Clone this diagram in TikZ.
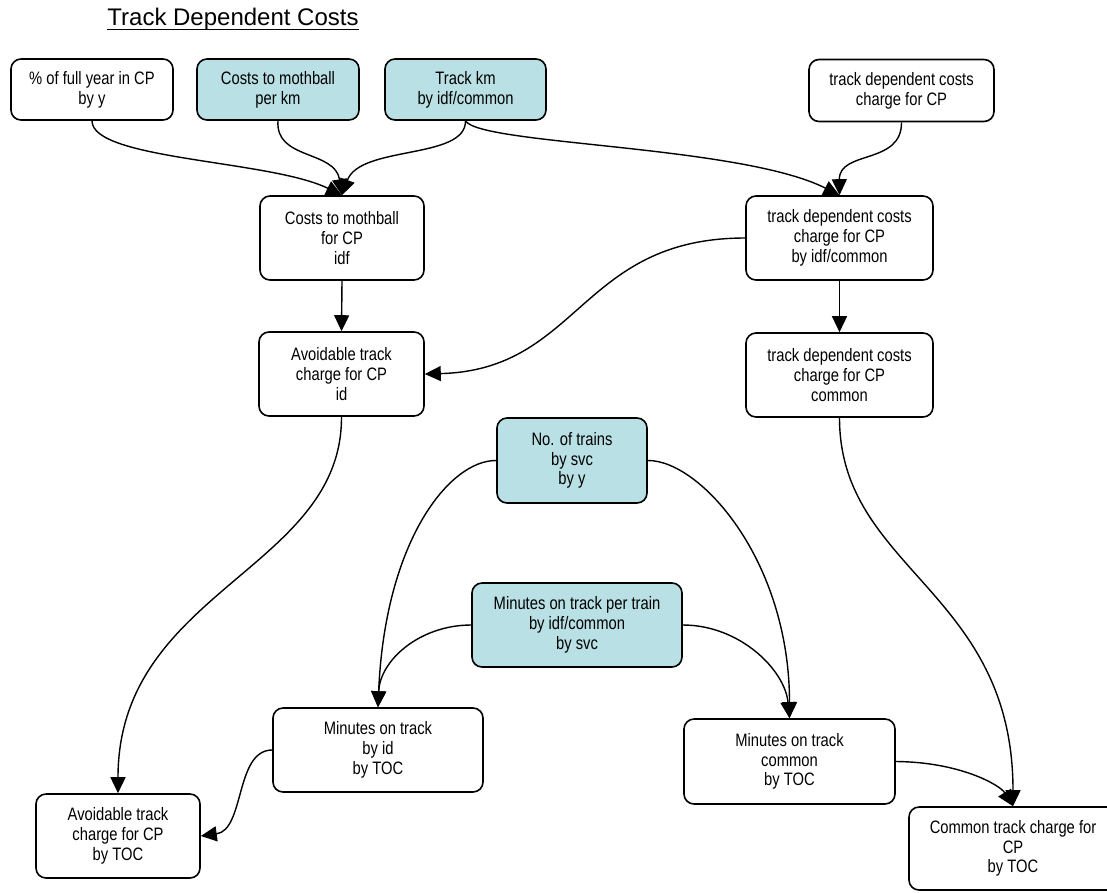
\documentclass[tikz,border=0pt]{standalone}
\usepackage{fontspec}
\setmainfont{Liberation Sans}
\newfontfamily\bodyfont[FakeStretch=0.82]{Liberation Sans}
\usetikzlibrary{arrows.meta}
\definecolor{tealfill}{RGB}{185,224,228}
\tikzset{
  box/.style={draw, rounded corners=10pt, line width=1.6pt, align=center, inner sep=2pt,
    font=\bodyfont\fontsize{18}{19.8}\selectfont, fill=white},
  inbox/.style={box, fill=tealfill},
  conn/.style={line width=1.4pt, -{Triangle[length=16pt,width=15pt]}}
}
\begin{document}
\begin{tikzpicture}[x=1pt,y=-1pt]
\useasboundingbox (0,0) rectangle (1107,892);
% title
\node[anchor=base, inner sep=0pt, font=\fontsize{24}{28}\selectfont] (title) at (233,25) {Track Dependent Costs};
\draw[line width=1.4pt] ([yshift=-4.5pt]title.base west) -- ([yshift=-4.5pt]title.base east);
% top row
\node[box, minimum width=162pt, minimum height=61pt] (b1) at (92,89.5) {\% of full year in CP\\by y};
\node[inbox, minimum width=162pt, minimum height=61pt] (b2) at (278,89.5) {Costs to mothball\\per km};
\node[inbox, minimum width=161pt, minimum height=61pt] (b3) at (465.5,89.5) {Track km\\by idf/common};
\node[box, minimum width=185pt, minimum height=62pt] (b4) at (901.5,90.5) {track dependent costs\\charge for CP};
% second row
\node[box, minimum width=164pt, minimum height=84pt] (b5) at (342,238) {Costs to mothball\\for CP\\idf};
\node[box, minimum width=187pt, minimum height=84pt] (b7) at (839.5,238) {track dependent costs\\charge for CP\\by idf/common};
% third row
\node[box, minimum width=165pt, minimum height=84pt] (b6) at (341.5,374) {Avoidable track\\charge for CP\\id};
\node[box, minimum width=187pt, minimum height=84pt] (b8) at (839.5,375) {track dependent costs\\charge for CP\\common};
% middle inputs
\node[inbox, minimum width=150pt, minimum height=85pt] (b9) at (572,460.5) {No. of trains\\by svc\\by y};
\node[inbox, minimum width=210pt, minimum height=84pt] (b10) at (577,625) {Minutes on track per train\\by idf/common\\by svc};
% lower
\node[box, minimum width=210pt, minimum height=84pt] (b11) at (378,750) {Minutes on track\\by id\\by TOC};
\node[box, minimum width=211pt, minimum height=85pt] (b13) at (789.5,761.5) {Minutes on track\\common\\by TOC};
\node[box, minimum width=164pt, minimum height=84pt] (b12) at (118,836) {Avoidable track\\charge for CP\\by TOC};
\node[box, minimum width=208pt, minimum height=83pt] (b14) at (1013,848.5) {Common track charge for\\CP\\by TOC};
% connectors
\draw[conn] (b1.south) .. controls (92,160) and (270,160) .. (b5.north);
\draw[conn] (b2.south) .. controls (275,160) and (335,150) .. (b5.north);
\draw[conn] (b3.south) .. controls (466,160) and (360,145) .. (b5.north);
\draw[conn] (b3.south) .. controls (480,145) and (740,145) .. (b7.north);
\draw[conn] (b4.south) .. controls (902,165) and (839,150) .. (b7.north);
\draw[conn] (b5.south) -- (b6.north);
\draw[conn] (b7.south) -- (b8.north);
\draw[conn] (b7.west) .. controls (580,238) and (580,370) .. (b6.east);
\draw[conn] (b6.south) .. controls (342,570) and (118,590) .. (b12.north);
\draw[conn] (b8.south) .. controls (839.5,570) and (1013,590) .. (b14.north);
\draw[conn] (b9.west) .. controls (450,460) and (385,540) .. (b11.north);
\draw[conn] (b9.east) .. controls (700,460) and (789.5,560) .. (b13.north);
\draw[conn] (b10.west) .. controls (420,625) and (380,660) .. (b11.north);
\draw[conn] (b10.east) .. controls (740,625) and (785,670) .. (b13.north);
\draw[conn] (b11.west) .. controls (235,750) and (245,830) .. (b12.east);
\draw[conn] (b13.east) .. controls (960,762) and (1000,785) .. (b14.north);
\end{tikzpicture}
\end{document}
